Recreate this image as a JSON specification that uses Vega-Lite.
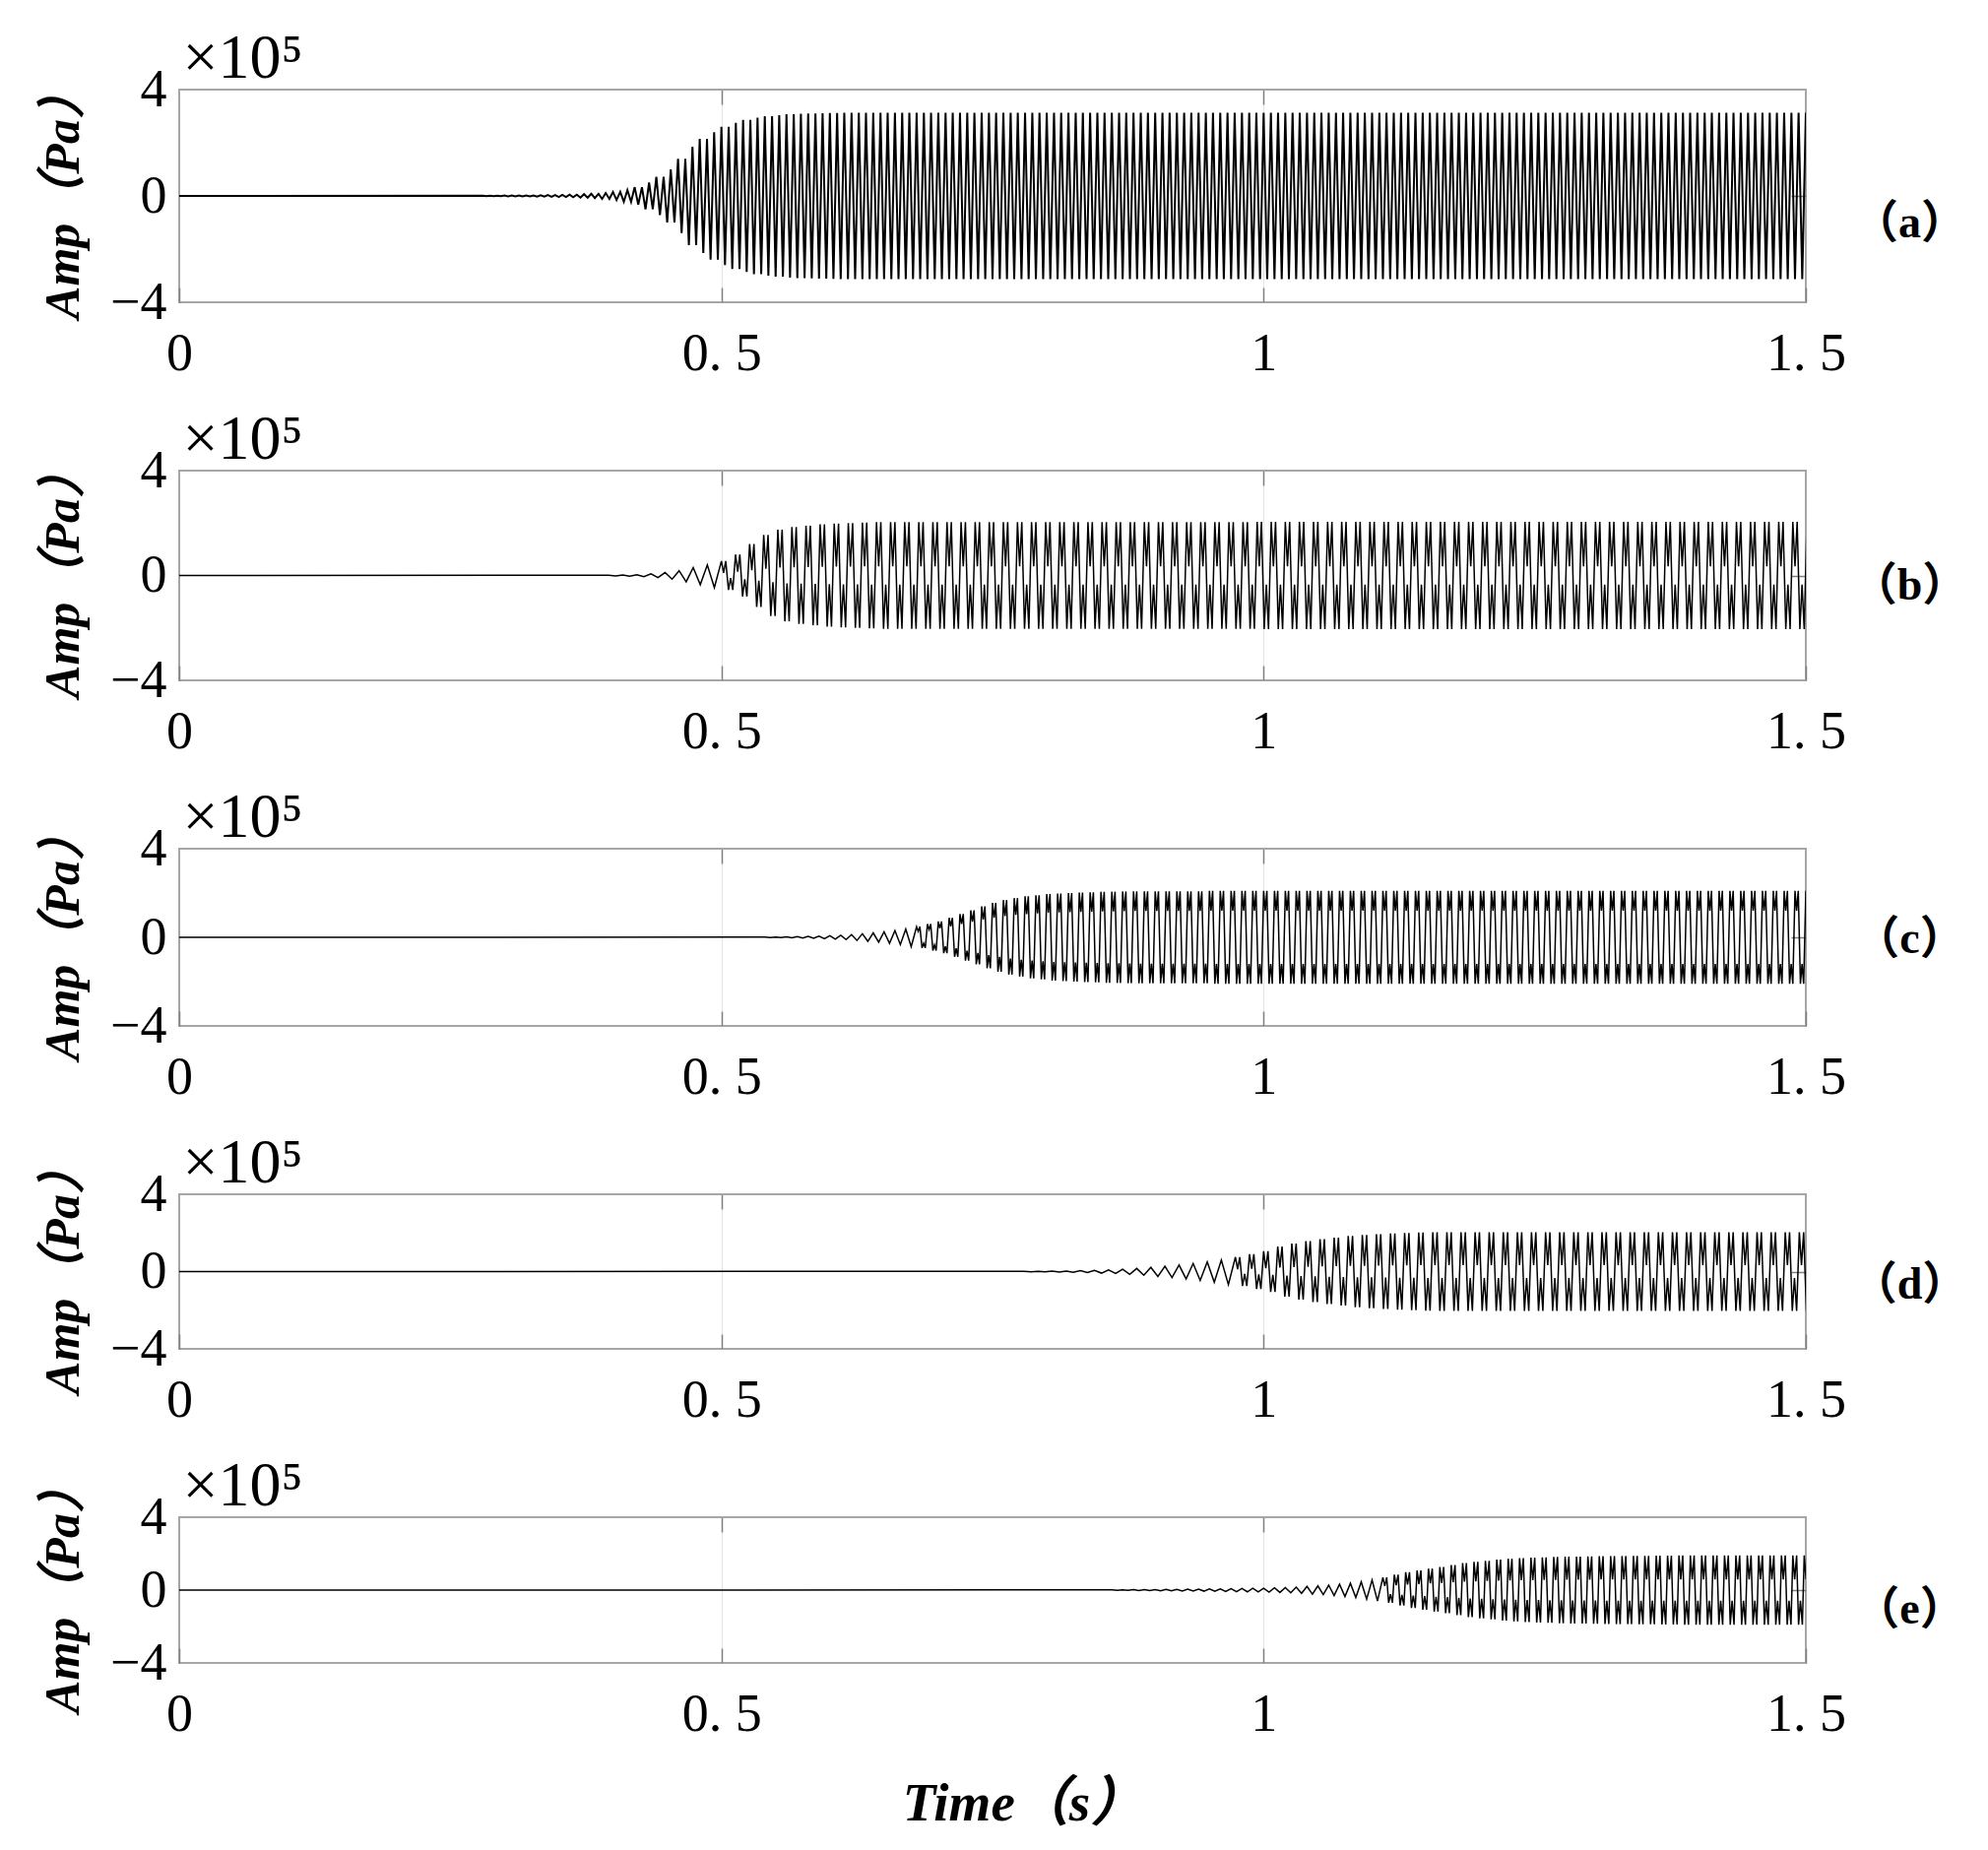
{
"$schema": "https://vega.github.io/schema/vega-lite/v6.json",
"background": "white",
"padding": {"left": 37, "top": 26, "right": 10, "bottom": 10},
"bounds": "flush",
"spacing": 171,
"config": {
  "view": {"stroke": "#a6a6a6", "strokeWidth": 2},
  "axis": {"labelFont": "Liberation Serif", "titleFont": "Liberation Serif, Noto Sans CJK SC", "labelColor": "#000", "titleColor": "#000", "labelFontSize": 54, "domain": false, "tickColor": "#808080", "tickWidth": 1.5, "labelFlush": false, "labelOverlap": false, "labelBound": false}
},
"datasets": {
"a": [{"t":0,"v":0},
{"t":0.28,"v":0.01},{"t":0.2833,"v":-0.01},{"t":0.2867,"v":0.01},
{"t":0.29,"v":-0.012},{"t":0.2933,"v":0.012},{"t":0.2967,"v":-0.012},
{"t":0.3,"v":0.015},{"t":0.3033,"v":-0.015},{"t":0.3067,"v":0.015},
{"t":0.31,"v":-0.017},{"t":0.3133,"v":0.017},{"t":0.3167,"v":-0.017},
{"t":0.32,"v":0.02},{"t":0.3233,"v":-0.02},{"t":0.3267,"v":0.02},
{"t":0.33,"v":-0.025},{"t":0.3333,"v":0.025},{"t":0.3367,"v":-0.025},
{"t":0.34,"v":0.03},{"t":0.3433,"v":-0.03},{"t":0.3467,"v":0.03},
{"t":0.35,"v":-0.04},{"t":0.3533,"v":0.04},{"t":0.3567,"v":-0.04},
{"t":0.36,"v":0.05},{"t":0.3633,"v":-0.05},{"t":0.3667,"v":0.05},
{"t":0.37,"v":-0.065},{"t":0.3733,"v":0.065},{"t":0.3767,"v":-0.065},
{"t":0.38,"v":0.08},{"t":0.3833,"v":-0.08},{"t":0.3867,"v":0.08},
{"t":0.39,"v":-0.11},{"t":0.3933,"v":0.11},{"t":0.3967,"v":-0.11},
{"t":0.4,"v":0.15},{"t":0.4033,"v":-0.15},{"t":0.4067,"v":0.15},
{"t":0.41,"v":-0.22},{"t":0.4133,"v":0.22},{"t":0.4167,"v":-0.22},
{"t":0.42,"v":0.33},{"t":0.4233,"v":-0.33},{"t":0.4267,"v":0.33},
{"t":0.43,"v":-0.5},{"t":0.4333,"v":0.5},{"t":0.4367,"v":-0.5},
{"t":0.44,"v":0.72},{"t":0.4433,"v":-0.72},{"t":0.4467,"v":0.72},
{"t":0.45,"v":-1},{"t":0.4533,"v":1},{"t":0.4567,"v":-1},
{"t":0.46,"v":1.4},{"t":0.4633,"v":-1.4},{"t":0.4667,"v":1.4},
{"t":0.47,"v":-1.85},{"t":0.4733,"v":1.85},{"t":0.4767,"v":-1.85},
{"t":0.48,"v":2.15},{"t":0.4833,"v":-2.15},{"t":0.4867,"v":2.15},
{"t":0.49,"v":-2.4},{"t":0.4933,"v":2.4},{"t":0.4967,"v":-2.4},
{"t":0.5,"v":2.6},{"t":0.5033,"v":-2.6},{"t":0.5067,"v":2.6},
{"t":0.51,"v":-2.75},{"t":0.5133,"v":2.75},{"t":0.5167,"v":-2.75},
{"t":0.52,"v":2.86},{"t":0.5233,"v":-2.86},{"t":0.5267,"v":2.86},
{"t":0.53,"v":-2.94},{"t":0.5333,"v":2.94},{"t":0.5367,"v":-2.94},
{"t":0.54,"v":3},{"t":0.5433,"v":-3},{"t":0.5467,"v":3},
{"t":0.55,"v":-3.04},{"t":0.5533,"v":3.04},{"t":0.5567,"v":-3.04},
{"t":0.56,"v":3.07},{"t":0.5633,"v":-3.07},{"t":0.5667,"v":3.07},
{"t":0.57,"v":-3.09},{"t":0.5733,"v":3.09},{"t":0.5767,"v":-3.09},
{"t":0.58,"v":3.1},{"t":0.5833,"v":-3.1},{"t":0.5867,"v":3.1},
{"t":0.59,"v":-3.11},{"t":0.5933,"v":3.11},{"t":0.5967,"v":-3.11},
{"t":0.6,"v":3.12},{"t":0.6033,"v":-3.12},{"t":0.6067,"v":3.12},
{"t":0.61,"v":-3.13},{"t":0.6133,"v":3.13},{"t":0.6167,"v":-3.13},
{"t":0.62,"v":3.13},{"t":0.6233,"v":-3.13},{"t":0.6267,"v":3.13},
{"t":0.63,"v":-3.13},{"t":0.6333,"v":3.13},{"t":0.6367,"v":-3.13},
{"t":0.64,"v":3.13},{"t":0.6433,"v":-3.13},{"t":0.6467,"v":3.13},
{"t":0.65,"v":-3.13},{"t":0.6533,"v":3.13},{"t":0.6567,"v":-3.13},
{"t":0.66,"v":3.13},{"t":0.6633,"v":-3.13},{"t":0.6667,"v":3.13},
{"t":0.67,"v":-3.13},{"t":0.6733,"v":3.13},{"t":0.6767,"v":-3.13},
{"t":0.68,"v":3.13},{"t":0.6833,"v":-3.13},{"t":0.6867,"v":3.13},
{"t":0.69,"v":-3.13},{"t":0.6933,"v":3.13},{"t":0.6967,"v":-3.13},
{"t":0.7,"v":3.13},{"t":0.7033,"v":-3.13},{"t":0.7067,"v":3.13},
{"t":0.71,"v":-3.13},{"t":0.7133,"v":3.13},{"t":0.7167,"v":-3.13},
{"t":0.72,"v":3.13},{"t":0.7233,"v":-3.13},{"t":0.7267,"v":3.13},
{"t":0.73,"v":-3.13},{"t":0.7333,"v":3.13},{"t":0.7367,"v":-3.13},
{"t":0.74,"v":3.13},{"t":0.7433,"v":-3.13},{"t":0.7467,"v":3.13},
{"t":0.75,"v":-3.13},{"t":0.7533,"v":3.13},{"t":0.7567,"v":-3.13},
{"t":0.76,"v":3.13},{"t":0.7633,"v":-3.13},{"t":0.7667,"v":3.13},
{"t":0.77,"v":-3.13},{"t":0.7733,"v":3.13},{"t":0.7767,"v":-3.13},
{"t":0.78,"v":3.13},{"t":0.7833,"v":-3.13},{"t":0.7867,"v":3.13},
{"t":0.79,"v":-3.13},{"t":0.7933,"v":3.13},{"t":0.7967,"v":-3.13},
{"t":0.8,"v":3.13},{"t":0.8033,"v":-3.13},{"t":0.8067,"v":3.13},
{"t":0.81,"v":-3.13},{"t":0.8133,"v":3.13},{"t":0.8167,"v":-3.13},
{"t":0.82,"v":3.13},{"t":0.8233,"v":-3.13},{"t":0.8267,"v":3.13},
{"t":0.83,"v":-3.13},{"t":0.8333,"v":3.13},{"t":0.8367,"v":-3.13},
{"t":0.84,"v":3.13},{"t":0.8433,"v":-3.13},{"t":0.8467,"v":3.13},
{"t":0.85,"v":-3.13},{"t":0.8533,"v":3.13},{"t":0.8567,"v":-3.13},
{"t":0.86,"v":3.13},{"t":0.8633,"v":-3.13},{"t":0.8667,"v":3.13},
{"t":0.87,"v":-3.13},{"t":0.8733,"v":3.13},{"t":0.8767,"v":-3.13},
{"t":0.88,"v":3.13},{"t":0.8833,"v":-3.13},{"t":0.8867,"v":3.13},
{"t":0.89,"v":-3.13},{"t":0.8933,"v":3.13},{"t":0.8967,"v":-3.13},
{"t":0.9,"v":3.13},{"t":0.9033,"v":-3.13},{"t":0.9067,"v":3.13},
{"t":0.91,"v":-3.13},{"t":0.9133,"v":3.13},{"t":0.9167,"v":-3.13},
{"t":0.92,"v":3.13},{"t":0.9233,"v":-3.13},{"t":0.9267,"v":3.13},
{"t":0.93,"v":-3.13},{"t":0.9333,"v":3.13},{"t":0.9367,"v":-3.13},
{"t":0.94,"v":3.13},{"t":0.9433,"v":-3.13},{"t":0.9467,"v":3.13},
{"t":0.95,"v":-3.13},{"t":0.9533,"v":3.13},{"t":0.9567,"v":-3.13},
{"t":0.96,"v":3.13},{"t":0.9633,"v":-3.13},{"t":0.9667,"v":3.13},
{"t":0.97,"v":-3.13},{"t":0.9733,"v":3.13},{"t":0.9767,"v":-3.13},
{"t":0.98,"v":3.13},{"t":0.9833,"v":-3.13},{"t":0.9867,"v":3.13},
{"t":0.99,"v":-3.13},{"t":0.9933,"v":3.13},{"t":0.9967,"v":-3.13},
{"t":1,"v":3.13},{"t":1.0033,"v":-3.13},{"t":1.0067,"v":3.13},
{"t":1.01,"v":-3.13},{"t":1.0133,"v":3.13},{"t":1.0167,"v":-3.13},
{"t":1.02,"v":3.13},{"t":1.0233,"v":-3.13},{"t":1.0267,"v":3.13},
{"t":1.03,"v":-3.13},{"t":1.0333,"v":3.13},{"t":1.0367,"v":-3.13},
{"t":1.04,"v":3.13},{"t":1.0433,"v":-3.13},{"t":1.0467,"v":3.13},
{"t":1.05,"v":-3.13},{"t":1.0533,"v":3.13},{"t":1.0567,"v":-3.13},
{"t":1.06,"v":3.13},{"t":1.0633,"v":-3.13},{"t":1.0667,"v":3.13},
{"t":1.07,"v":-3.13},{"t":1.0733,"v":3.13},{"t":1.0767,"v":-3.13},
{"t":1.08,"v":3.13},{"t":1.0833,"v":-3.13},{"t":1.0867,"v":3.13},
{"t":1.09,"v":-3.13},{"t":1.0933,"v":3.13},{"t":1.0967,"v":-3.13},
{"t":1.1,"v":3.13},{"t":1.1033,"v":-3.13},{"t":1.1067,"v":3.13},
{"t":1.11,"v":-3.13},{"t":1.1133,"v":3.13},{"t":1.1167,"v":-3.13},
{"t":1.12,"v":3.13},{"t":1.1233,"v":-3.13},{"t":1.1267,"v":3.13},
{"t":1.13,"v":-3.13},{"t":1.1333,"v":3.13},{"t":1.1367,"v":-3.13},
{"t":1.14,"v":3.13},{"t":1.1433,"v":-3.13},{"t":1.1467,"v":3.13},
{"t":1.15,"v":-3.13},{"t":1.1533,"v":3.13},{"t":1.1567,"v":-3.13},
{"t":1.16,"v":3.13},{"t":1.1633,"v":-3.13},{"t":1.1667,"v":3.13},
{"t":1.17,"v":-3.13},{"t":1.1733,"v":3.13},{"t":1.1767,"v":-3.13},
{"t":1.18,"v":3.13},{"t":1.1833,"v":-3.13},{"t":1.1867,"v":3.13},
{"t":1.19,"v":-3.13},{"t":1.1933,"v":3.13},{"t":1.1967,"v":-3.13},
{"t":1.2,"v":3.13},{"t":1.2033,"v":-3.13},{"t":1.2067,"v":3.13},
{"t":1.21,"v":-3.13},{"t":1.2133,"v":3.13},{"t":1.2167,"v":-3.13},
{"t":1.22,"v":3.13},{"t":1.2233,"v":-3.13},{"t":1.2267,"v":3.13},
{"t":1.23,"v":-3.13},{"t":1.2333,"v":3.13},{"t":1.2367,"v":-3.13},
{"t":1.24,"v":3.13},{"t":1.2433,"v":-3.13},{"t":1.2467,"v":3.13},
{"t":1.25,"v":-3.13},{"t":1.2533,"v":3.13},{"t":1.2567,"v":-3.13},
{"t":1.26,"v":3.13},{"t":1.2633,"v":-3.13},{"t":1.2667,"v":3.13},
{"t":1.27,"v":-3.13},{"t":1.2733,"v":3.13},{"t":1.2767,"v":-3.13},
{"t":1.28,"v":3.13},{"t":1.2833,"v":-3.13},{"t":1.2867,"v":3.13},
{"t":1.29,"v":-3.13},{"t":1.2933,"v":3.13},{"t":1.2967,"v":-3.13},
{"t":1.3,"v":3.13},{"t":1.3033,"v":-3.13},{"t":1.3067,"v":3.13},
{"t":1.31,"v":-3.13},{"t":1.3133,"v":3.13},{"t":1.3167,"v":-3.13},
{"t":1.32,"v":3.13},{"t":1.3233,"v":-3.13},{"t":1.3267,"v":3.13},
{"t":1.33,"v":-3.13},{"t":1.3333,"v":3.13},{"t":1.3367,"v":-3.13},
{"t":1.34,"v":3.13},{"t":1.3433,"v":-3.13},{"t":1.3467,"v":3.13},
{"t":1.35,"v":-3.13},{"t":1.3533,"v":3.13},{"t":1.3567,"v":-3.13},
{"t":1.36,"v":3.13},{"t":1.3633,"v":-3.13},{"t":1.3667,"v":3.13},
{"t":1.37,"v":-3.13},{"t":1.3733,"v":3.13},{"t":1.3767,"v":-3.13},
{"t":1.38,"v":3.13},{"t":1.3833,"v":-3.13},{"t":1.3867,"v":3.13},
{"t":1.39,"v":-3.13},{"t":1.3933,"v":3.13},{"t":1.3967,"v":-3.13},
{"t":1.4,"v":3.13},{"t":1.4033,"v":-3.13},{"t":1.4067,"v":3.13},
{"t":1.41,"v":-3.13},{"t":1.4133,"v":3.13},{"t":1.4167,"v":-3.13},
{"t":1.42,"v":3.13},{"t":1.4233,"v":-3.13},{"t":1.4267,"v":3.13},
{"t":1.43,"v":-3.13},{"t":1.4333,"v":3.13},{"t":1.4367,"v":-3.13},
{"t":1.44,"v":3.13},{"t":1.4433,"v":-3.13},{"t":1.4467,"v":3.13},
{"t":1.45,"v":-3.13},{"t":1.4533,"v":3.13},{"t":1.4567,"v":-3.13},
{"t":1.46,"v":3.13},{"t":1.4633,"v":-3.13},{"t":1.4667,"v":3.13},
{"t":1.47,"v":-3.13},{"t":1.4733,"v":3.13},{"t":1.4767,"v":-3.13},
{"t":1.48,"v":3.13},{"t":1.4833,"v":-3.13},{"t":1.4867,"v":3.13},
{"t":1.49,"v":-3.13},{"t":1.4933,"v":3.13},{"t":1.4967,"v":-3.13},
{"t":1.5,"v":3.13}],
"b": [{"t":0,"v":0},
{"t":0.396,"v":0.01},{"t":0.4025,"v":-0.015},{"t":0.409,"v":0.02},{"t":0.4155,"v":-0.025},{"t":0.422,"v":0.03},{"t":0.4285,"v":-0.045},{"t":0.435,"v":0.06},{"t":0.4415,"v":-0.08},{"t":0.448,"v":0.11},{"t":0.4545,"v":-0.14},{"t":0.461,"v":0.18},{"t":0.4675,"v":-0.24},{"t":0.474,"v":0.3},{"t":0.4805,"v":-0.35},{"t":0.487,"v":0.4},{"t":0.4935,"v":-0.46},
{"t":0.5,"v":0.55},{"t":0.502,"v":0.1},{"t":0.504,"v":0.55},{"t":0.5065,"v":-0.55},{"t":0.5085,"v":-0.1},{"t":0.5105,"v":-0.55},
{"t":0.513,"v":0.8},{"t":0.515,"v":0.14},{"t":0.517,"v":0.8},{"t":0.5195,"v":-0.8},{"t":0.5215,"v":-0.14},{"t":0.5235,"v":-0.8},
{"t":0.526,"v":1.2},{"t":0.528,"v":0.2},{"t":0.53,"v":1.2},{"t":0.5325,"v":-1.2},{"t":0.5345,"v":-0.2},{"t":0.5365,"v":-1.2},
{"t":0.539,"v":1.55},{"t":0.541,"v":0.26},{"t":0.543,"v":1.55},{"t":0.5455,"v":-1.55},{"t":0.5475,"v":-0.26},{"t":0.5495,"v":-1.55},
{"t":0.552,"v":1.75},{"t":0.554,"v":0.3},{"t":0.556,"v":1.75},{"t":0.5585,"v":-1.75},{"t":0.5605,"v":-0.3},{"t":0.5625,"v":-1.75},
{"t":0.565,"v":1.85},{"t":0.567,"v":0.31},{"t":0.569,"v":1.85},{"t":0.5715,"v":-1.85},{"t":0.5735,"v":-0.31},{"t":0.5755,"v":-1.85},
{"t":0.578,"v":1.9},{"t":0.58,"v":0.32},{"t":0.582,"v":1.9},{"t":0.5845,"v":-1.9},{"t":0.5865,"v":-0.32},{"t":0.5885,"v":-1.9},
{"t":0.591,"v":1.95},{"t":0.593,"v":0.33},{"t":0.595,"v":1.95},{"t":0.5975,"v":-1.95},{"t":0.5995,"v":-0.33},{"t":0.6015,"v":-1.95},
{"t":0.604,"v":1.98},{"t":0.606,"v":0.34},{"t":0.608,"v":1.98},{"t":0.6105,"v":-1.98},{"t":0.6125,"v":-0.34},{"t":0.6145,"v":-1.98},
{"t":0.617,"v":2},{"t":0.619,"v":0.34},{"t":0.621,"v":2},{"t":0.6235,"v":-2},{"t":0.6255,"v":-0.34},{"t":0.6275,"v":-2},
{"t":0.63,"v":2.02},{"t":0.632,"v":0.35},{"t":0.634,"v":2.02},{"t":0.6365,"v":-2.02},{"t":0.6385,"v":-0.35},{"t":0.6405,"v":-2.02},
{"t":0.643,"v":2.04},{"t":0.645,"v":0.35},{"t":0.647,"v":2.04},{"t":0.6495,"v":-2.04},{"t":0.6515,"v":-0.35},{"t":0.6535,"v":-2.04},
{"t":0.656,"v":2.04},{"t":0.658,"v":0.35},{"t":0.66,"v":2.04},{"t":0.6625,"v":-2.04},{"t":0.6645,"v":-0.35},{"t":0.6665,"v":-2.04},
{"t":0.669,"v":2.04},{"t":0.671,"v":0.35},{"t":0.673,"v":2.04},{"t":0.6755,"v":-2.04},{"t":0.6775,"v":-0.35},{"t":0.6795,"v":-2.04},
{"t":0.682,"v":2.04},{"t":0.684,"v":0.35},{"t":0.686,"v":2.04},{"t":0.6885,"v":-2.04},{"t":0.6905,"v":-0.35},{"t":0.6925,"v":-2.04},
{"t":0.695,"v":2.04},{"t":0.697,"v":0.35},{"t":0.699,"v":2.04},{"t":0.7015,"v":-2.04},{"t":0.7035,"v":-0.35},{"t":0.7055,"v":-2.04},
{"t":0.708,"v":2.04},{"t":0.71,"v":0.35},{"t":0.712,"v":2.04},{"t":0.7145,"v":-2.04},{"t":0.7165,"v":-0.35},{"t":0.7185,"v":-2.04},
{"t":0.721,"v":2.04},{"t":0.723,"v":0.35},{"t":0.725,"v":2.04},{"t":0.7275,"v":-2.04},{"t":0.7295,"v":-0.35},{"t":0.7315,"v":-2.04},
{"t":0.734,"v":2.04},{"t":0.736,"v":0.35},{"t":0.738,"v":2.04},{"t":0.7405,"v":-2.04},{"t":0.7425,"v":-0.35},{"t":0.7445,"v":-2.04},
{"t":0.747,"v":2.04},{"t":0.749,"v":0.35},{"t":0.751,"v":2.04},{"t":0.7535,"v":-2.04},{"t":0.7555,"v":-0.35},{"t":0.7575,"v":-2.04},
{"t":0.76,"v":2.04},{"t":0.762,"v":0.35},{"t":0.764,"v":2.04},{"t":0.7665,"v":-2.04},{"t":0.7685,"v":-0.35},{"t":0.7705,"v":-2.04},
{"t":0.773,"v":2.04},{"t":0.775,"v":0.35},{"t":0.777,"v":2.04},{"t":0.7795,"v":-2.04},{"t":0.7815,"v":-0.35},{"t":0.7835,"v":-2.04},
{"t":0.786,"v":2.04},{"t":0.788,"v":0.35},{"t":0.79,"v":2.04},{"t":0.7925,"v":-2.04},{"t":0.7945,"v":-0.35},{"t":0.7965,"v":-2.04},
{"t":0.799,"v":2.04},{"t":0.801,"v":0.35},{"t":0.803,"v":2.04},{"t":0.8055,"v":-2.04},{"t":0.8075,"v":-0.35},{"t":0.8095,"v":-2.04},
{"t":0.812,"v":2.04},{"t":0.814,"v":0.35},{"t":0.816,"v":2.04},{"t":0.8185,"v":-2.04},{"t":0.8205,"v":-0.35},{"t":0.8225,"v":-2.04},
{"t":0.825,"v":2.04},{"t":0.827,"v":0.35},{"t":0.829,"v":2.04},{"t":0.8315,"v":-2.04},{"t":0.8335,"v":-0.35},{"t":0.8355,"v":-2.04},
{"t":0.838,"v":2.04},{"t":0.84,"v":0.35},{"t":0.842,"v":2.04},{"t":0.8445,"v":-2.04},{"t":0.8465,"v":-0.35},{"t":0.8485,"v":-2.04},
{"t":0.851,"v":2.04},{"t":0.853,"v":0.35},{"t":0.855,"v":2.04},{"t":0.8575,"v":-2.04},{"t":0.8595,"v":-0.35},{"t":0.8615,"v":-2.04},
{"t":0.864,"v":2.04},{"t":0.866,"v":0.35},{"t":0.868,"v":2.04},{"t":0.8705,"v":-2.04},{"t":0.8725,"v":-0.35},{"t":0.8745,"v":-2.04},
{"t":0.877,"v":2.04},{"t":0.879,"v":0.35},{"t":0.881,"v":2.04},{"t":0.8835,"v":-2.04},{"t":0.8855,"v":-0.35},{"t":0.8875,"v":-2.04},
{"t":0.89,"v":2.04},{"t":0.892,"v":0.35},{"t":0.894,"v":2.04},{"t":0.8965,"v":-2.04},{"t":0.8985,"v":-0.35},{"t":0.9005,"v":-2.04},
{"t":0.903,"v":2.04},{"t":0.905,"v":0.35},{"t":0.907,"v":2.04},{"t":0.9095,"v":-2.04},{"t":0.9115,"v":-0.35},{"t":0.9135,"v":-2.04},
{"t":0.916,"v":2.04},{"t":0.918,"v":0.35},{"t":0.92,"v":2.04},{"t":0.9225,"v":-2.04},{"t":0.9245,"v":-0.35},{"t":0.9265,"v":-2.04},
{"t":0.929,"v":2.04},{"t":0.931,"v":0.35},{"t":0.933,"v":2.04},{"t":0.9355,"v":-2.04},{"t":0.9375,"v":-0.35},{"t":0.9395,"v":-2.04},
{"t":0.942,"v":2.04},{"t":0.944,"v":0.35},{"t":0.946,"v":2.04},{"t":0.9485,"v":-2.04},{"t":0.9505,"v":-0.35},{"t":0.9525,"v":-2.04},
{"t":0.955,"v":2.04},{"t":0.957,"v":0.35},{"t":0.959,"v":2.04},{"t":0.9615,"v":-2.04},{"t":0.9635,"v":-0.35},{"t":0.9655,"v":-2.04},
{"t":0.968,"v":2.04},{"t":0.97,"v":0.35},{"t":0.972,"v":2.04},{"t":0.9745,"v":-2.04},{"t":0.9765,"v":-0.35},{"t":0.9785,"v":-2.04},
{"t":0.981,"v":2.04},{"t":0.983,"v":0.35},{"t":0.985,"v":2.04},{"t":0.9875,"v":-2.04},{"t":0.9895,"v":-0.35},{"t":0.9915,"v":-2.04},
{"t":0.994,"v":2.05},{"t":0.996,"v":0.35},{"t":0.998,"v":2.05},{"t":1.0005,"v":-2.05},{"t":1.0025,"v":-0.35},{"t":1.0045,"v":-2.05},
{"t":1.007,"v":2.05},{"t":1.009,"v":0.35},{"t":1.011,"v":2.05},{"t":1.0135,"v":-2.05},{"t":1.0155,"v":-0.35},{"t":1.0175,"v":-2.05},
{"t":1.02,"v":2.05},{"t":1.022,"v":0.35},{"t":1.024,"v":2.05},{"t":1.0265,"v":-2.05},{"t":1.0285,"v":-0.35},{"t":1.0305,"v":-2.05},
{"t":1.033,"v":2.05},{"t":1.035,"v":0.35},{"t":1.037,"v":2.05},{"t":1.0395,"v":-2.05},{"t":1.0415,"v":-0.35},{"t":1.0435,"v":-2.05},
{"t":1.046,"v":2.05},{"t":1.048,"v":0.35},{"t":1.05,"v":2.05},{"t":1.0525,"v":-2.05},{"t":1.0545,"v":-0.35},{"t":1.0565,"v":-2.05},
{"t":1.059,"v":2.05},{"t":1.061,"v":0.35},{"t":1.063,"v":2.05},{"t":1.0655,"v":-2.05},{"t":1.0675,"v":-0.35},{"t":1.0695,"v":-2.05},
{"t":1.072,"v":2.05},{"t":1.074,"v":0.35},{"t":1.076,"v":2.05},{"t":1.0785,"v":-2.05},{"t":1.0805,"v":-0.35},{"t":1.0825,"v":-2.05},
{"t":1.085,"v":2.05},{"t":1.087,"v":0.35},{"t":1.089,"v":2.05},{"t":1.0915,"v":-2.05},{"t":1.0935,"v":-0.35},{"t":1.0955,"v":-2.05},
{"t":1.098,"v":2.05},{"t":1.1,"v":0.35},{"t":1.102,"v":2.05},{"t":1.1045,"v":-2.05},{"t":1.1065,"v":-0.35},{"t":1.1085,"v":-2.05},
{"t":1.111,"v":2.05},{"t":1.113,"v":0.35},{"t":1.115,"v":2.05},{"t":1.1175,"v":-2.05},{"t":1.1195,"v":-0.35},{"t":1.1215,"v":-2.05},
{"t":1.124,"v":2.05},{"t":1.126,"v":0.35},{"t":1.128,"v":2.05},{"t":1.1305,"v":-2.05},{"t":1.1325,"v":-0.35},{"t":1.1345,"v":-2.05},
{"t":1.137,"v":2.05},{"t":1.139,"v":0.35},{"t":1.141,"v":2.05},{"t":1.1435,"v":-2.05},{"t":1.1455,"v":-0.35},{"t":1.1475,"v":-2.05},
{"t":1.15,"v":2.05},{"t":1.152,"v":0.35},{"t":1.154,"v":2.05},{"t":1.1565,"v":-2.05},{"t":1.1585,"v":-0.35},{"t":1.1605,"v":-2.05},
{"t":1.163,"v":2.05},{"t":1.165,"v":0.35},{"t":1.167,"v":2.05},{"t":1.1695,"v":-2.05},{"t":1.1715,"v":-0.35},{"t":1.1735,"v":-2.05},
{"t":1.176,"v":2.05},{"t":1.178,"v":0.35},{"t":1.18,"v":2.05},{"t":1.1825,"v":-2.05},{"t":1.1845,"v":-0.35},{"t":1.1865,"v":-2.05},
{"t":1.189,"v":2.05},{"t":1.191,"v":0.35},{"t":1.193,"v":2.05},{"t":1.1955,"v":-2.05},{"t":1.1975,"v":-0.35},{"t":1.1995,"v":-2.05},
{"t":1.202,"v":2.05},{"t":1.204,"v":0.35},{"t":1.206,"v":2.05},{"t":1.2085,"v":-2.05},{"t":1.2105,"v":-0.35},{"t":1.2125,"v":-2.05},
{"t":1.215,"v":2.05},{"t":1.217,"v":0.35},{"t":1.219,"v":2.05},{"t":1.2215,"v":-2.05},{"t":1.2235,"v":-0.35},{"t":1.2255,"v":-2.05},
{"t":1.228,"v":2.05},{"t":1.23,"v":0.35},{"t":1.232,"v":2.05},{"t":1.2345,"v":-2.05},{"t":1.2365,"v":-0.35},{"t":1.2385,"v":-2.05},
{"t":1.241,"v":2.05},{"t":1.243,"v":0.35},{"t":1.245,"v":2.05},{"t":1.2475,"v":-2.05},{"t":1.2495,"v":-0.35},{"t":1.2515,"v":-2.05},
{"t":1.254,"v":2.05},{"t":1.256,"v":0.35},{"t":1.258,"v":2.05},{"t":1.2605,"v":-2.05},{"t":1.2625,"v":-0.35},{"t":1.2645,"v":-2.05},
{"t":1.267,"v":2.05},{"t":1.269,"v":0.35},{"t":1.271,"v":2.05},{"t":1.2735,"v":-2.05},{"t":1.2755,"v":-0.35},{"t":1.2775,"v":-2.05},
{"t":1.28,"v":2.05},{"t":1.282,"v":0.35},{"t":1.284,"v":2.05},{"t":1.2865,"v":-2.05},{"t":1.2885,"v":-0.35},{"t":1.2905,"v":-2.05},
{"t":1.293,"v":2.05},{"t":1.295,"v":0.35},{"t":1.297,"v":2.05},{"t":1.2995,"v":-2.05},{"t":1.3015,"v":-0.35},{"t":1.3035,"v":-2.05},
{"t":1.306,"v":2.05},{"t":1.308,"v":0.35},{"t":1.31,"v":2.05},{"t":1.3125,"v":-2.05},{"t":1.3145,"v":-0.35},{"t":1.3165,"v":-2.05},
{"t":1.319,"v":2.05},{"t":1.321,"v":0.35},{"t":1.323,"v":2.05},{"t":1.3255,"v":-2.05},{"t":1.3275,"v":-0.35},{"t":1.3295,"v":-2.05},
{"t":1.332,"v":2.05},{"t":1.334,"v":0.35},{"t":1.336,"v":2.05},{"t":1.3385,"v":-2.05},{"t":1.3405,"v":-0.35},{"t":1.3425,"v":-2.05},
{"t":1.345,"v":2.05},{"t":1.347,"v":0.35},{"t":1.349,"v":2.05},{"t":1.3515,"v":-2.05},{"t":1.3535,"v":-0.35},{"t":1.3555,"v":-2.05},
{"t":1.358,"v":2.05},{"t":1.36,"v":0.35},{"t":1.362,"v":2.05},{"t":1.3645,"v":-2.05},{"t":1.3665,"v":-0.35},{"t":1.3685,"v":-2.05},
{"t":1.371,"v":2.05},{"t":1.373,"v":0.35},{"t":1.375,"v":2.05},{"t":1.3775,"v":-2.05},{"t":1.3795,"v":-0.35},{"t":1.3815,"v":-2.05},
{"t":1.384,"v":2.05},{"t":1.386,"v":0.35},{"t":1.388,"v":2.05},{"t":1.3905,"v":-2.05},{"t":1.3925,"v":-0.35},{"t":1.3945,"v":-2.05},
{"t":1.397,"v":2.05},{"t":1.399,"v":0.35},{"t":1.401,"v":2.05},{"t":1.4035,"v":-2.05},{"t":1.4055,"v":-0.35},{"t":1.4075,"v":-2.05},
{"t":1.41,"v":2.05},{"t":1.412,"v":0.35},{"t":1.414,"v":2.05},{"t":1.4165,"v":-2.05},{"t":1.4185,"v":-0.35},{"t":1.4205,"v":-2.05},
{"t":1.423,"v":2.05},{"t":1.425,"v":0.35},{"t":1.427,"v":2.05},{"t":1.4295,"v":-2.05},{"t":1.4315,"v":-0.35},{"t":1.4335,"v":-2.05},
{"t":1.436,"v":2.05},{"t":1.438,"v":0.35},{"t":1.44,"v":2.05},{"t":1.4425,"v":-2.05},{"t":1.4445,"v":-0.35},{"t":1.4465,"v":-2.05},
{"t":1.449,"v":2.05},{"t":1.451,"v":0.35},{"t":1.453,"v":2.05},{"t":1.4555,"v":-2.05},{"t":1.4575,"v":-0.35},{"t":1.4595,"v":-2.05},
{"t":1.462,"v":2.05},{"t":1.464,"v":0.35},{"t":1.466,"v":2.05},{"t":1.4685,"v":-2.05},{"t":1.4705,"v":-0.35},{"t":1.4725,"v":-2.05},
{"t":1.475,"v":2.05},{"t":1.477,"v":0.35},{"t":1.479,"v":2.05},{"t":1.4815,"v":-2.05},{"t":1.4835,"v":-0.35},{"t":1.4855,"v":-2.05},
{"t":1.488,"v":2.05},{"t":1.49,"v":0.35},{"t":1.492,"v":2.05},{"t":1.4945,"v":-2.05},{"t":1.4965,"v":-0.35},{"t":1.4985,"v":-2.05},
{"t":1.501,"v":2.05}],
"c": [{"t":0,"v":0},
{"t":0.54,"v":0.01},{"t":0.545,"v":-0.012},{"t":0.55,"v":0.014},{"t":0.555,"v":-0.016},{"t":0.56,"v":0.02},{"t":0.565,"v":-0.024},{"t":0.57,"v":0.028},{"t":0.575,"v":-0.033},{"t":0.58,"v":0.04},{"t":0.585,"v":-0.047},{"t":0.59,"v":0.055},{"t":0.595,"v":-0.062},{"t":0.6,"v":0.07},{"t":0.605,"v":-0.08},{"t":0.61,"v":0.09},{"t":0.615,"v":-0.105},{"t":0.62,"v":0.12},{"t":0.625,"v":-0.14},{"t":0.63,"v":0.16},{"t":0.635,"v":-0.18},{"t":0.64,"v":0.2},{"t":0.645,"v":-0.22},{"t":0.65,"v":0.25},{"t":0.655,"v":-0.27},{"t":0.66,"v":0.3},{"t":0.665,"v":-0.33},{"t":0.67,"v":0.37},{"t":0.675,"v":-0.42},
{"t":0.68,"v":0.48},{"t":0.6815,"v":0.27},{"t":0.683,"v":0.48},{"t":0.685,"v":-0.48},{"t":0.6865,"v":-0.27},{"t":0.688,"v":-0.48},
{"t":0.69,"v":0.6},{"t":0.6915,"v":0.34},{"t":0.693,"v":0.6},{"t":0.695,"v":-0.6},{"t":0.6965,"v":-0.34},{"t":0.698,"v":-0.6},
{"t":0.7,"v":0.72},{"t":0.7015,"v":0.41},{"t":0.703,"v":0.72},{"t":0.705,"v":-0.72},{"t":0.7065,"v":-0.41},{"t":0.708,"v":-0.72},
{"t":0.71,"v":0.88},{"t":0.7115,"v":0.5},{"t":0.713,"v":0.88},{"t":0.715,"v":-0.88},{"t":0.7165,"v":-0.5},{"t":0.718,"v":-0.88},
{"t":0.72,"v":1.05},{"t":0.7215,"v":0.6},{"t":0.723,"v":1.05},{"t":0.725,"v":-1.05},{"t":0.7265,"v":-0.6},{"t":0.728,"v":-1.05},
{"t":0.73,"v":1.22},{"t":0.7315,"v":0.7},{"t":0.733,"v":1.22},{"t":0.735,"v":-1.22},{"t":0.7365,"v":-0.7},{"t":0.738,"v":-1.22},
{"t":0.74,"v":1.4},{"t":0.7415,"v":0.8},{"t":0.743,"v":1.4},{"t":0.745,"v":-1.4},{"t":0.7465,"v":-0.8},{"t":0.748,"v":-1.4},
{"t":0.75,"v":1.55},{"t":0.7515,"v":0.88},{"t":0.753,"v":1.55},{"t":0.755,"v":-1.55},{"t":0.7565,"v":-0.88},{"t":0.758,"v":-1.55},
{"t":0.76,"v":1.68},{"t":0.7615,"v":0.96},{"t":0.763,"v":1.68},{"t":0.765,"v":-1.68},{"t":0.7665,"v":-0.96},{"t":0.768,"v":-1.68},
{"t":0.77,"v":1.77},{"t":0.7715,"v":1.01},{"t":0.773,"v":1.77},{"t":0.775,"v":-1.77},{"t":0.7765,"v":-1.01},{"t":0.778,"v":-1.77},
{"t":0.78,"v":1.85},{"t":0.7815,"v":1.05},{"t":0.783,"v":1.85},{"t":0.785,"v":-1.85},{"t":0.7865,"v":-1.05},{"t":0.788,"v":-1.85},
{"t":0.79,"v":1.9},{"t":0.7915,"v":1.08},{"t":0.793,"v":1.9},{"t":0.795,"v":-1.9},{"t":0.7965,"v":-1.08},{"t":0.798,"v":-1.9},
{"t":0.8,"v":1.95},{"t":0.8015,"v":1.11},{"t":0.803,"v":1.95},{"t":0.805,"v":-1.95},{"t":0.8065,"v":-1.11},{"t":0.808,"v":-1.95},
{"t":0.81,"v":1.98},{"t":0.8115,"v":1.13},{"t":0.813,"v":1.98},{"t":0.815,"v":-1.98},{"t":0.8165,"v":-1.13},{"t":0.818,"v":-1.98},
{"t":0.82,"v":2},{"t":0.8215,"v":1.14},{"t":0.823,"v":2},{"t":0.825,"v":-2},{"t":0.8265,"v":-1.14},{"t":0.828,"v":-2},
{"t":0.83,"v":2.02},{"t":0.8315,"v":1.15},{"t":0.833,"v":2.02},{"t":0.835,"v":-2.02},{"t":0.8365,"v":-1.15},{"t":0.838,"v":-2.02},
{"t":0.84,"v":2.03},{"t":0.8415,"v":1.16},{"t":0.843,"v":2.03},{"t":0.845,"v":-2.03},{"t":0.8465,"v":-1.16},{"t":0.848,"v":-2.03},
{"t":0.85,"v":2.05},{"t":0.8515,"v":1.17},{"t":0.853,"v":2.05},{"t":0.855,"v":-2.05},{"t":0.8565,"v":-1.17},{"t":0.858,"v":-2.05},
{"t":0.86,"v":2.06},{"t":0.8615,"v":1.17},{"t":0.863,"v":2.06},{"t":0.865,"v":-2.06},{"t":0.8665,"v":-1.17},{"t":0.868,"v":-2.06},
{"t":0.87,"v":2.07},{"t":0.8715,"v":1.18},{"t":0.873,"v":2.07},{"t":0.875,"v":-2.07},{"t":0.8765,"v":-1.18},{"t":0.878,"v":-2.07},
{"t":0.88,"v":2.08},{"t":0.8815,"v":1.19},{"t":0.883,"v":2.08},{"t":0.885,"v":-2.08},{"t":0.8865,"v":-1.19},{"t":0.888,"v":-2.08},
{"t":0.89,"v":2.08},{"t":0.8915,"v":1.19},{"t":0.893,"v":2.08},{"t":0.895,"v":-2.08},{"t":0.8965,"v":-1.19},{"t":0.898,"v":-2.08},
{"t":0.9,"v":2.08},{"t":0.9015,"v":1.19},{"t":0.903,"v":2.08},{"t":0.905,"v":-2.08},{"t":0.9065,"v":-1.19},{"t":0.908,"v":-2.08},
{"t":0.91,"v":2.08},{"t":0.9115,"v":1.19},{"t":0.913,"v":2.08},{"t":0.915,"v":-2.08},{"t":0.9165,"v":-1.19},{"t":0.918,"v":-2.08},
{"t":0.92,"v":2.08},{"t":0.9215,"v":1.19},{"t":0.923,"v":2.08},{"t":0.925,"v":-2.08},{"t":0.9265,"v":-1.19},{"t":0.928,"v":-2.08},
{"t":0.93,"v":2.08},{"t":0.9315,"v":1.19},{"t":0.933,"v":2.08},{"t":0.935,"v":-2.08},{"t":0.9365,"v":-1.19},{"t":0.938,"v":-2.08},
{"t":0.94,"v":2.08},{"t":0.9415,"v":1.19},{"t":0.943,"v":2.08},{"t":0.945,"v":-2.08},{"t":0.9465,"v":-1.19},{"t":0.948,"v":-2.08},
{"t":0.95,"v":2.1},{"t":0.9515,"v":1.2},{"t":0.953,"v":2.1},{"t":0.955,"v":-2.1},{"t":0.9565,"v":-1.2},{"t":0.958,"v":-2.1},
{"t":0.96,"v":2.1},{"t":0.9615,"v":1.2},{"t":0.963,"v":2.1},{"t":0.965,"v":-2.1},{"t":0.9665,"v":-1.2},{"t":0.968,"v":-2.1},
{"t":0.97,"v":2.1},{"t":0.9715,"v":1.2},{"t":0.973,"v":2.1},{"t":0.975,"v":-2.1},{"t":0.9765,"v":-1.2},{"t":0.978,"v":-2.1},
{"t":0.98,"v":2.1},{"t":0.9815,"v":1.2},{"t":0.983,"v":2.1},{"t":0.985,"v":-2.1},{"t":0.9865,"v":-1.2},{"t":0.988,"v":-2.1},
{"t":0.99,"v":2.1},{"t":0.9915,"v":1.2},{"t":0.993,"v":2.1},{"t":0.995,"v":-2.1},{"t":0.9965,"v":-1.2},{"t":0.998,"v":-2.1},
{"t":1,"v":2.1},{"t":1.0015,"v":1.2},{"t":1.003,"v":2.1},{"t":1.005,"v":-2.1},{"t":1.0065,"v":-1.2},{"t":1.008,"v":-2.1},
{"t":1.01,"v":2.1},{"t":1.0115,"v":1.2},{"t":1.013,"v":2.1},{"t":1.015,"v":-2.1},{"t":1.0165,"v":-1.2},{"t":1.018,"v":-2.1},
{"t":1.02,"v":2.1},{"t":1.0215,"v":1.2},{"t":1.023,"v":2.1},{"t":1.025,"v":-2.1},{"t":1.0265,"v":-1.2},{"t":1.028,"v":-2.1},
{"t":1.03,"v":2.1},{"t":1.0315,"v":1.2},{"t":1.033,"v":2.1},{"t":1.035,"v":-2.1},{"t":1.0365,"v":-1.2},{"t":1.038,"v":-2.1},
{"t":1.04,"v":2.1},{"t":1.0415,"v":1.2},{"t":1.043,"v":2.1},{"t":1.045,"v":-2.1},{"t":1.0465,"v":-1.2},{"t":1.048,"v":-2.1},
{"t":1.05,"v":2.1},{"t":1.0515,"v":1.2},{"t":1.053,"v":2.1},{"t":1.055,"v":-2.1},{"t":1.0565,"v":-1.2},{"t":1.058,"v":-2.1},
{"t":1.06,"v":2.1},{"t":1.0615,"v":1.2},{"t":1.063,"v":2.1},{"t":1.065,"v":-2.1},{"t":1.0665,"v":-1.2},{"t":1.068,"v":-2.1},
{"t":1.07,"v":2.1},{"t":1.0715,"v":1.2},{"t":1.073,"v":2.1},{"t":1.075,"v":-2.1},{"t":1.0765,"v":-1.2},{"t":1.078,"v":-2.1},
{"t":1.08,"v":2.1},{"t":1.0815,"v":1.2},{"t":1.083,"v":2.1},{"t":1.085,"v":-2.1},{"t":1.0865,"v":-1.2},{"t":1.088,"v":-2.1},
{"t":1.09,"v":2.1},{"t":1.0915,"v":1.2},{"t":1.093,"v":2.1},{"t":1.095,"v":-2.1},{"t":1.0965,"v":-1.2},{"t":1.098,"v":-2.1},
{"t":1.1,"v":2.1},{"t":1.1015,"v":1.2},{"t":1.103,"v":2.1},{"t":1.105,"v":-2.1},{"t":1.1065,"v":-1.2},{"t":1.108,"v":-2.1},
{"t":1.11,"v":2.1},{"t":1.1115,"v":1.2},{"t":1.113,"v":2.1},{"t":1.115,"v":-2.1},{"t":1.1165,"v":-1.2},{"t":1.118,"v":-2.1},
{"t":1.12,"v":2.1},{"t":1.1215,"v":1.2},{"t":1.123,"v":2.1},{"t":1.125,"v":-2.1},{"t":1.1265,"v":-1.2},{"t":1.128,"v":-2.1},
{"t":1.13,"v":2.1},{"t":1.1315,"v":1.2},{"t":1.133,"v":2.1},{"t":1.135,"v":-2.1},{"t":1.1365,"v":-1.2},{"t":1.138,"v":-2.1},
{"t":1.14,"v":2.1},{"t":1.1415,"v":1.2},{"t":1.143,"v":2.1},{"t":1.145,"v":-2.1},{"t":1.1465,"v":-1.2},{"t":1.148,"v":-2.1},
{"t":1.15,"v":2.1},{"t":1.1515,"v":1.2},{"t":1.153,"v":2.1},{"t":1.155,"v":-2.1},{"t":1.1565,"v":-1.2},{"t":1.158,"v":-2.1},
{"t":1.16,"v":2.1},{"t":1.1615,"v":1.2},{"t":1.163,"v":2.1},{"t":1.165,"v":-2.1},{"t":1.1665,"v":-1.2},{"t":1.168,"v":-2.1},
{"t":1.17,"v":2.1},{"t":1.1715,"v":1.2},{"t":1.173,"v":2.1},{"t":1.175,"v":-2.1},{"t":1.1765,"v":-1.2},{"t":1.178,"v":-2.1},
{"t":1.18,"v":2.1},{"t":1.1815,"v":1.2},{"t":1.183,"v":2.1},{"t":1.185,"v":-2.1},{"t":1.1865,"v":-1.2},{"t":1.188,"v":-2.1},
{"t":1.19,"v":2.1},{"t":1.1915,"v":1.2},{"t":1.193,"v":2.1},{"t":1.195,"v":-2.1},{"t":1.1965,"v":-1.2},{"t":1.198,"v":-2.1},
{"t":1.2,"v":2.1},{"t":1.2015,"v":1.2},{"t":1.203,"v":2.1},{"t":1.205,"v":-2.1},{"t":1.2065,"v":-1.2},{"t":1.208,"v":-2.1},
{"t":1.21,"v":2.1},{"t":1.2115,"v":1.2},{"t":1.213,"v":2.1},{"t":1.215,"v":-2.1},{"t":1.2165,"v":-1.2},{"t":1.218,"v":-2.1},
{"t":1.22,"v":2.1},{"t":1.2215,"v":1.2},{"t":1.223,"v":2.1},{"t":1.225,"v":-2.1},{"t":1.2265,"v":-1.2},{"t":1.228,"v":-2.1},
{"t":1.23,"v":2.1},{"t":1.2315,"v":1.2},{"t":1.233,"v":2.1},{"t":1.235,"v":-2.1},{"t":1.2365,"v":-1.2},{"t":1.238,"v":-2.1},
{"t":1.24,"v":2.1},{"t":1.2415,"v":1.2},{"t":1.243,"v":2.1},{"t":1.245,"v":-2.1},{"t":1.2465,"v":-1.2},{"t":1.248,"v":-2.1},
{"t":1.25,"v":2.1},{"t":1.2515,"v":1.2},{"t":1.253,"v":2.1},{"t":1.255,"v":-2.1},{"t":1.2565,"v":-1.2},{"t":1.258,"v":-2.1},
{"t":1.26,"v":2.1},{"t":1.2615,"v":1.2},{"t":1.263,"v":2.1},{"t":1.265,"v":-2.1},{"t":1.2665,"v":-1.2},{"t":1.268,"v":-2.1},
{"t":1.27,"v":2.1},{"t":1.2715,"v":1.2},{"t":1.273,"v":2.1},{"t":1.275,"v":-2.1},{"t":1.2765,"v":-1.2},{"t":1.278,"v":-2.1},
{"t":1.28,"v":2.1},{"t":1.2815,"v":1.2},{"t":1.283,"v":2.1},{"t":1.285,"v":-2.1},{"t":1.2865,"v":-1.2},{"t":1.288,"v":-2.1},
{"t":1.29,"v":2.1},{"t":1.2915,"v":1.2},{"t":1.293,"v":2.1},{"t":1.295,"v":-2.1},{"t":1.2965,"v":-1.2},{"t":1.298,"v":-2.1},
{"t":1.3,"v":2.1},{"t":1.3015,"v":1.2},{"t":1.303,"v":2.1},{"t":1.305,"v":-2.1},{"t":1.3065,"v":-1.2},{"t":1.308,"v":-2.1},
{"t":1.31,"v":2.1},{"t":1.3115,"v":1.2},{"t":1.313,"v":2.1},{"t":1.315,"v":-2.1},{"t":1.3165,"v":-1.2},{"t":1.318,"v":-2.1},
{"t":1.32,"v":2.1},{"t":1.3215,"v":1.2},{"t":1.323,"v":2.1},{"t":1.325,"v":-2.1},{"t":1.3265,"v":-1.2},{"t":1.328,"v":-2.1},
{"t":1.33,"v":2.1},{"t":1.3315,"v":1.2},{"t":1.333,"v":2.1},{"t":1.335,"v":-2.1},{"t":1.3365,"v":-1.2},{"t":1.338,"v":-2.1},
{"t":1.34,"v":2.1},{"t":1.3415,"v":1.2},{"t":1.343,"v":2.1},{"t":1.345,"v":-2.1},{"t":1.3465,"v":-1.2},{"t":1.348,"v":-2.1},
{"t":1.35,"v":2.1},{"t":1.3515,"v":1.2},{"t":1.353,"v":2.1},{"t":1.355,"v":-2.1},{"t":1.3565,"v":-1.2},{"t":1.358,"v":-2.1},
{"t":1.36,"v":2.1},{"t":1.3615,"v":1.2},{"t":1.363,"v":2.1},{"t":1.365,"v":-2.1},{"t":1.3665,"v":-1.2},{"t":1.368,"v":-2.1},
{"t":1.37,"v":2.1},{"t":1.3715,"v":1.2},{"t":1.373,"v":2.1},{"t":1.375,"v":-2.1},{"t":1.3765,"v":-1.2},{"t":1.378,"v":-2.1},
{"t":1.38,"v":2.1},{"t":1.3815,"v":1.2},{"t":1.383,"v":2.1},{"t":1.385,"v":-2.1},{"t":1.3865,"v":-1.2},{"t":1.388,"v":-2.1},
{"t":1.39,"v":2.1},{"t":1.3915,"v":1.2},{"t":1.393,"v":2.1},{"t":1.395,"v":-2.1},{"t":1.3965,"v":-1.2},{"t":1.398,"v":-2.1},
{"t":1.4,"v":2.1},{"t":1.4015,"v":1.2},{"t":1.403,"v":2.1},{"t":1.405,"v":-2.1},{"t":1.4065,"v":-1.2},{"t":1.408,"v":-2.1},
{"t":1.41,"v":2.1},{"t":1.4115,"v":1.2},{"t":1.413,"v":2.1},{"t":1.415,"v":-2.1},{"t":1.4165,"v":-1.2},{"t":1.418,"v":-2.1},
{"t":1.42,"v":2.1},{"t":1.4215,"v":1.2},{"t":1.423,"v":2.1},{"t":1.425,"v":-2.1},{"t":1.4265,"v":-1.2},{"t":1.428,"v":-2.1},
{"t":1.43,"v":2.1},{"t":1.4315,"v":1.2},{"t":1.433,"v":2.1},{"t":1.435,"v":-2.1},{"t":1.4365,"v":-1.2},{"t":1.438,"v":-2.1},
{"t":1.44,"v":2.1},{"t":1.4415,"v":1.2},{"t":1.443,"v":2.1},{"t":1.445,"v":-2.1},{"t":1.4465,"v":-1.2},{"t":1.448,"v":-2.1},
{"t":1.45,"v":2.1},{"t":1.4515,"v":1.2},{"t":1.453,"v":2.1},{"t":1.455,"v":-2.1},{"t":1.4565,"v":-1.2},{"t":1.458,"v":-2.1},
{"t":1.46,"v":2.1},{"t":1.4615,"v":1.2},{"t":1.463,"v":2.1},{"t":1.465,"v":-2.1},{"t":1.4665,"v":-1.2},{"t":1.468,"v":-2.1},
{"t":1.47,"v":2.1},{"t":1.4715,"v":1.2},{"t":1.473,"v":2.1},{"t":1.475,"v":-2.1},{"t":1.4765,"v":-1.2},{"t":1.478,"v":-2.1},
{"t":1.48,"v":2.1},{"t":1.4815,"v":1.2},{"t":1.483,"v":2.1},{"t":1.485,"v":-2.1},{"t":1.4865,"v":-1.2},{"t":1.488,"v":-2.1},
{"t":1.49,"v":2.1},{"t":1.4915,"v":1.2},{"t":1.493,"v":2.1},{"t":1.495,"v":-2.1},{"t":1.4965,"v":-1.2},{"t":1.498,"v":-2.1},
{"t":1.5,"v":2.1}],
"d": [{"t":0,"v":0},
{"t":0.779,"v":0.01},{"t":0.7855,"v":-0.012},{"t":0.792,"v":0.014},{"t":0.7985,"v":-0.017},{"t":0.805,"v":0.02},{"t":0.8115,"v":-0.025},{"t":0.818,"v":0.03},{"t":0.8245,"v":-0.04},{"t":0.831,"v":0.045},{"t":0.8375,"v":-0.055},{"t":0.844,"v":0.065},{"t":0.8505,"v":-0.08},{"t":0.857,"v":0.09},{"t":0.8635,"v":-0.1},{"t":0.87,"v":0.12},{"t":0.8765,"v":-0.14},{"t":0.883,"v":0.16},{"t":0.8895,"v":-0.19},{"t":0.896,"v":0.22},{"t":0.9025,"v":-0.25},{"t":0.909,"v":0.28},{"t":0.9155,"v":-0.31},{"t":0.922,"v":0.34},{"t":0.9285,"v":-0.38},{"t":0.935,"v":0.42},{"t":0.9415,"v":-0.46},{"t":0.948,"v":0.5},{"t":0.9545,"v":-0.55},{"t":0.961,"v":0.6},{"t":0.9675,"v":-0.67},
{"t":0.974,"v":0.75},{"t":0.976,"v":0.12},{"t":0.978,"v":0.75},{"t":0.9805,"v":-0.75},{"t":0.9825,"v":-0.12},{"t":0.9845,"v":-0.75},
{"t":0.987,"v":0.9},{"t":0.989,"v":0.14},{"t":0.991,"v":0.9},{"t":0.9935,"v":-0.9},{"t":0.9955,"v":-0.14},{"t":0.9975,"v":-0.9},
{"t":1,"v":1.05},{"t":1.002,"v":0.17},{"t":1.004,"v":1.05},{"t":1.0065,"v":-1.05},{"t":1.0085,"v":-0.17},{"t":1.0105,"v":-1.05},
{"t":1.013,"v":1.3},{"t":1.015,"v":0.21},{"t":1.017,"v":1.3},{"t":1.0195,"v":-1.3},{"t":1.0215,"v":-0.21},{"t":1.0235,"v":-1.3},
{"t":1.026,"v":1.45},{"t":1.028,"v":0.23},{"t":1.03,"v":1.45},{"t":1.0325,"v":-1.45},{"t":1.0345,"v":-0.23},{"t":1.0365,"v":-1.45},
{"t":1.039,"v":1.58},{"t":1.041,"v":0.25},{"t":1.043,"v":1.58},{"t":1.0455,"v":-1.58},{"t":1.0475,"v":-0.25},{"t":1.0495,"v":-1.58},
{"t":1.052,"v":1.68},{"t":1.054,"v":0.27},{"t":1.056,"v":1.68},{"t":1.0585,"v":-1.68},{"t":1.0605,"v":-0.27},{"t":1.0625,"v":-1.68},
{"t":1.065,"v":1.76},{"t":1.067,"v":0.28},{"t":1.069,"v":1.76},{"t":1.0715,"v":-1.76},{"t":1.0735,"v":-0.28},{"t":1.0755,"v":-1.76},
{"t":1.078,"v":1.84},{"t":1.08,"v":0.29},{"t":1.082,"v":1.84},{"t":1.0845,"v":-1.84},{"t":1.0865,"v":-0.29},{"t":1.0885,"v":-1.84},
{"t":1.091,"v":1.9},{"t":1.093,"v":0.3},{"t":1.095,"v":1.9},{"t":1.0975,"v":-1.9},{"t":1.0995,"v":-0.3},{"t":1.1015,"v":-1.9},
{"t":1.104,"v":1.94},{"t":1.106,"v":0.31},{"t":1.108,"v":1.94},{"t":1.1105,"v":-1.94},{"t":1.1125,"v":-0.31},{"t":1.1145,"v":-1.94},
{"t":1.117,"v":1.97},{"t":1.119,"v":0.32},{"t":1.121,"v":1.97},{"t":1.1235,"v":-1.97},{"t":1.1255,"v":-0.32},{"t":1.1275,"v":-1.97},
{"t":1.13,"v":2},{"t":1.132,"v":0.32},{"t":1.134,"v":2},{"t":1.1365,"v":-2},{"t":1.1385,"v":-0.32},{"t":1.1405,"v":-2},
{"t":1.143,"v":2.02},{"t":1.145,"v":0.33},{"t":1.147,"v":2.02},{"t":1.1495,"v":-2.02},{"t":1.1515,"v":-0.33},{"t":1.1535,"v":-2.02},
{"t":1.156,"v":2.04},{"t":1.158,"v":0.33},{"t":1.16,"v":2.04},{"t":1.1625,"v":-2.04},{"t":1.1645,"v":-0.33},{"t":1.1665,"v":-2.04},
{"t":1.169,"v":2.04},{"t":1.171,"v":0.33},{"t":1.173,"v":2.04},{"t":1.1755,"v":-2.04},{"t":1.1775,"v":-0.33},{"t":1.1795,"v":-2.04},
{"t":1.182,"v":2.04},{"t":1.184,"v":0.33},{"t":1.186,"v":2.04},{"t":1.1885,"v":-2.04},{"t":1.1905,"v":-0.33},{"t":1.1925,"v":-2.04},
{"t":1.195,"v":2.04},{"t":1.197,"v":0.33},{"t":1.199,"v":2.04},{"t":1.2015,"v":-2.04},{"t":1.2035,"v":-0.33},{"t":1.2055,"v":-2.04},
{"t":1.208,"v":2.04},{"t":1.21,"v":0.33},{"t":1.212,"v":2.04},{"t":1.2145,"v":-2.04},{"t":1.2165,"v":-0.33},{"t":1.2185,"v":-2.04},
{"t":1.221,"v":2.04},{"t":1.223,"v":0.33},{"t":1.225,"v":2.04},{"t":1.2275,"v":-2.04},{"t":1.2295,"v":-0.33},{"t":1.2315,"v":-2.04},
{"t":1.234,"v":2.04},{"t":1.236,"v":0.33},{"t":1.238,"v":2.04},{"t":1.2405,"v":-2.04},{"t":1.2425,"v":-0.33},{"t":1.2445,"v":-2.04},
{"t":1.247,"v":2.04},{"t":1.249,"v":0.33},{"t":1.251,"v":2.04},{"t":1.2535,"v":-2.04},{"t":1.2555,"v":-0.33},{"t":1.2575,"v":-2.04},
{"t":1.26,"v":2.04},{"t":1.262,"v":0.33},{"t":1.264,"v":2.04},{"t":1.2665,"v":-2.04},{"t":1.2685,"v":-0.33},{"t":1.2705,"v":-2.04},
{"t":1.273,"v":2.04},{"t":1.275,"v":0.33},{"t":1.277,"v":2.04},{"t":1.2795,"v":-2.04},{"t":1.2815,"v":-0.33},{"t":1.2835,"v":-2.04},
{"t":1.286,"v":2.04},{"t":1.288,"v":0.33},{"t":1.29,"v":2.04},{"t":1.2925,"v":-2.04},{"t":1.2945,"v":-0.33},{"t":1.2965,"v":-2.04},
{"t":1.299,"v":2.04},{"t":1.301,"v":0.33},{"t":1.303,"v":2.04},{"t":1.3055,"v":-2.04},{"t":1.3075,"v":-0.33},{"t":1.3095,"v":-2.04},
{"t":1.312,"v":2.04},{"t":1.314,"v":0.33},{"t":1.316,"v":2.04},{"t":1.3185,"v":-2.04},{"t":1.3205,"v":-0.33},{"t":1.3225,"v":-2.04},
{"t":1.325,"v":2.04},{"t":1.327,"v":0.33},{"t":1.329,"v":2.04},{"t":1.3315,"v":-2.04},{"t":1.3335,"v":-0.33},{"t":1.3355,"v":-2.04},
{"t":1.338,"v":2.04},{"t":1.34,"v":0.33},{"t":1.342,"v":2.04},{"t":1.3445,"v":-2.04},{"t":1.3465,"v":-0.33},{"t":1.3485,"v":-2.04},
{"t":1.351,"v":2.04},{"t":1.353,"v":0.33},{"t":1.355,"v":2.04},{"t":1.3575,"v":-2.04},{"t":1.3595,"v":-0.33},{"t":1.3615,"v":-2.04},
{"t":1.364,"v":2.04},{"t":1.366,"v":0.33},{"t":1.368,"v":2.04},{"t":1.3705,"v":-2.04},{"t":1.3725,"v":-0.33},{"t":1.3745,"v":-2.04},
{"t":1.377,"v":2.04},{"t":1.379,"v":0.33},{"t":1.381,"v":2.04},{"t":1.3835,"v":-2.04},{"t":1.3855,"v":-0.33},{"t":1.3875,"v":-2.04},
{"t":1.39,"v":2.04},{"t":1.392,"v":0.33},{"t":1.394,"v":2.04},{"t":1.3965,"v":-2.04},{"t":1.3985,"v":-0.33},{"t":1.4005,"v":-2.04},
{"t":1.403,"v":2.04},{"t":1.405,"v":0.33},{"t":1.407,"v":2.04},{"t":1.4095,"v":-2.04},{"t":1.4115,"v":-0.33},{"t":1.4135,"v":-2.04},
{"t":1.416,"v":2.04},{"t":1.418,"v":0.33},{"t":1.42,"v":2.04},{"t":1.4225,"v":-2.04},{"t":1.4245,"v":-0.33},{"t":1.4265,"v":-2.04},
{"t":1.429,"v":2.04},{"t":1.431,"v":0.33},{"t":1.433,"v":2.04},{"t":1.4355,"v":-2.04},{"t":1.4375,"v":-0.33},{"t":1.4395,"v":-2.04},
{"t":1.442,"v":2.04},{"t":1.444,"v":0.33},{"t":1.446,"v":2.04},{"t":1.4485,"v":-2.04},{"t":1.4505,"v":-0.33},{"t":1.4525,"v":-2.04},
{"t":1.455,"v":2.04},{"t":1.457,"v":0.33},{"t":1.459,"v":2.04},{"t":1.4615,"v":-2.04},{"t":1.4635,"v":-0.33},{"t":1.4655,"v":-2.04},
{"t":1.468,"v":2.04},{"t":1.47,"v":0.33},{"t":1.472,"v":2.04},{"t":1.4745,"v":-2.04},{"t":1.4765,"v":-0.33},{"t":1.4785,"v":-2.04},
{"t":1.481,"v":2.04},{"t":1.483,"v":0.33},{"t":1.485,"v":2.04},{"t":1.4875,"v":-2.04},{"t":1.4895,"v":-0.33},{"t":1.4915,"v":-2.04},
{"t":1.494,"v":2.04},{"t":1.496,"v":0.33},{"t":1.498,"v":2.04},{"t":1.5005,"v":-2.04}],
"e": [{"t":0,"v":0},
{"t":0.86,"v":0.01},{"t":0.865,"v":-0.012},{"t":0.87,"v":0.015},{"t":0.875,"v":-0.017},{"t":0.88,"v":0.02},{"t":0.885,"v":-0.022},{"t":0.89,"v":0.025},{"t":0.895,"v":-0.027},{"t":0.9,"v":0.03},{"t":0.905,"v":-0.033},{"t":0.91,"v":0.036},{"t":0.915,"v":-0.04},{"t":0.92,"v":0.043},{"t":0.925,"v":-0.046},{"t":0.93,"v":0.05},{"t":0.935,"v":-0.052},{"t":0.94,"v":0.055},{"t":0.945,"v":-0.058},{"t":0.95,"v":0.06},{"t":0.955,"v":-0.065},{"t":0.96,"v":0.07},{"t":0.965,"v":-0.075},{"t":0.97,"v":0.08},{"t":0.975,"v":-0.085},{"t":0.98,"v":0.09},{"t":0.985,"v":-0.095},{"t":0.99,"v":0.1},{"t":0.995,"v":-0.1},{"t":1,"v":0.1},{"t":1.005,"v":-0.11},{"t":1.01,"v":0.12},{"t":1.015,"v":-0.13},{"t":1.02,"v":0.14},{"t":1.025,"v":-0.15},{"t":1.03,"v":0.16},{"t":1.035,"v":-0.18},{"t":1.04,"v":0.2},{"t":1.045,"v":-0.22},{"t":1.05,"v":0.23},{"t":1.055,"v":-0.25},{"t":1.06,"v":0.27},{"t":1.065,"v":-0.3},{"t":1.07,"v":0.32},{"t":1.075,"v":-0.35},{"t":1.08,"v":0.37},{"t":1.085,"v":-0.41},{"t":1.09,"v":0.45},{"t":1.095,"v":-0.5},{"t":1.1,"v":0.55},{"t":1.105,"v":-0.6},
{"t":1.11,"v":0.7},{"t":1.1117,"v":0.22},{"t":1.1135,"v":0.7},{"t":1.1153,"v":-0.7},{"t":1.117,"v":-0.22},{"t":1.1188,"v":-0.7},
{"t":1.1205,"v":0.85},{"t":1.1222,"v":0.26},{"t":1.124,"v":0.85},{"t":1.1258,"v":-0.85},{"t":1.1275,"v":-0.26},{"t":1.1293,"v":-0.85},
{"t":1.131,"v":0.98},{"t":1.1327,"v":0.3},{"t":1.1345,"v":0.98},{"t":1.1363,"v":-0.98},{"t":1.138,"v":-0.3},{"t":1.1398,"v":-0.98},
{"t":1.1415,"v":1.08},{"t":1.1432,"v":0.33},{"t":1.145,"v":1.08},{"t":1.1468,"v":-1.08},{"t":1.1485,"v":-0.33},{"t":1.1503,"v":-1.08},
{"t":1.152,"v":1.18},{"t":1.1537,"v":0.37},{"t":1.1555,"v":1.18},{"t":1.1573,"v":-1.18},{"t":1.159,"v":-0.37},{"t":1.1608,"v":-1.18},
{"t":1.1625,"v":1.27},{"t":1.1642,"v":0.39},{"t":1.166,"v":1.27},{"t":1.1678,"v":-1.27},{"t":1.1695,"v":-0.39},{"t":1.1713,"v":-1.27},
{"t":1.173,"v":1.38},{"t":1.1747,"v":0.43},{"t":1.1765,"v":1.38},{"t":1.1783,"v":-1.38},{"t":1.18,"v":-0.43},{"t":1.1818,"v":-1.38},
{"t":1.1835,"v":1.48},{"t":1.1852,"v":0.46},{"t":1.187,"v":1.48},{"t":1.1888,"v":-1.48},{"t":1.1905,"v":-0.46},{"t":1.1923,"v":-1.48},
{"t":1.194,"v":1.55},{"t":1.1957,"v":0.48},{"t":1.1975,"v":1.55},{"t":1.1993,"v":-1.55},{"t":1.201,"v":-0.48},{"t":1.2028,"v":-1.55},
{"t":1.2045,"v":1.61},{"t":1.2062,"v":0.5},{"t":1.208,"v":1.61},{"t":1.2098,"v":-1.61},{"t":1.2115,"v":-0.5},{"t":1.2133,"v":-1.61},
{"t":1.215,"v":1.67},{"t":1.2167,"v":0.52},{"t":1.2185,"v":1.67},{"t":1.2203,"v":-1.67},{"t":1.222,"v":-0.52},{"t":1.2238,"v":-1.67},
{"t":1.2255,"v":1.72},{"t":1.2272,"v":0.53},{"t":1.229,"v":1.72},{"t":1.2308,"v":-1.72},{"t":1.2325,"v":-0.53},{"t":1.2343,"v":-1.72},
{"t":1.236,"v":1.75},{"t":1.2377,"v":0.54},{"t":1.2395,"v":1.75},{"t":1.2413,"v":-1.75},{"t":1.243,"v":-0.54},{"t":1.2448,"v":-1.75},
{"t":1.2465,"v":1.78},{"t":1.2482,"v":0.55},{"t":1.25,"v":1.78},{"t":1.2518,"v":-1.78},{"t":1.2535,"v":-0.55},{"t":1.2553,"v":-1.78},
{"t":1.257,"v":1.8},{"t":1.2587,"v":0.56},{"t":1.2605,"v":1.8},{"t":1.2623,"v":-1.8},{"t":1.264,"v":-0.56},{"t":1.2658,"v":-1.8},
{"t":1.2675,"v":1.82},{"t":1.2692,"v":0.56},{"t":1.271,"v":1.82},{"t":1.2728,"v":-1.82},{"t":1.2745,"v":-0.56},{"t":1.2763,"v":-1.82},
{"t":1.278,"v":1.83},{"t":1.2797,"v":0.57},{"t":1.2815,"v":1.83},{"t":1.2833,"v":-1.83},{"t":1.285,"v":-0.57},{"t":1.2868,"v":-1.83},
{"t":1.2885,"v":1.84},{"t":1.2902,"v":0.57},{"t":1.292,"v":1.84},{"t":1.2938,"v":-1.84},{"t":1.2955,"v":-0.57},{"t":1.2973,"v":-1.84},
{"t":1.299,"v":1.85},{"t":1.3007,"v":0.57},{"t":1.3025,"v":1.85},{"t":1.3043,"v":-1.85},{"t":1.306,"v":-0.57},{"t":1.3078,"v":-1.85},
{"t":1.3095,"v":1.86},{"t":1.3112,"v":0.58},{"t":1.313,"v":1.86},{"t":1.3148,"v":-1.86},{"t":1.3165,"v":-0.58},{"t":1.3183,"v":-1.86},
{"t":1.32,"v":1.87},{"t":1.3217,"v":0.58},{"t":1.3235,"v":1.87},{"t":1.3253,"v":-1.87},{"t":1.327,"v":-0.58},{"t":1.3288,"v":-1.87},
{"t":1.3305,"v":1.87},{"t":1.3322,"v":0.58},{"t":1.334,"v":1.87},{"t":1.3358,"v":-1.87},{"t":1.3375,"v":-0.58},{"t":1.3393,"v":-1.87},
{"t":1.341,"v":1.88},{"t":1.3427,"v":0.58},{"t":1.3445,"v":1.88},{"t":1.3463,"v":-1.88},{"t":1.348,"v":-0.58},{"t":1.3498,"v":-1.88},
{"t":1.3515,"v":1.88},{"t":1.3532,"v":0.58},{"t":1.355,"v":1.88},{"t":1.3568,"v":-1.88},{"t":1.3585,"v":-0.58},{"t":1.3603,"v":-1.88},
{"t":1.362,"v":1.89},{"t":1.3637,"v":0.59},{"t":1.3655,"v":1.89},{"t":1.3673,"v":-1.89},{"t":1.369,"v":-0.59},{"t":1.3708,"v":-1.89},
{"t":1.3725,"v":1.89},{"t":1.3742,"v":0.59},{"t":1.376,"v":1.89},{"t":1.3778,"v":-1.89},{"t":1.3795,"v":-0.59},{"t":1.3813,"v":-1.89},
{"t":1.383,"v":1.9},{"t":1.3847,"v":0.59},{"t":1.3865,"v":1.9},{"t":1.3883,"v":-1.9},{"t":1.39,"v":-0.59},{"t":1.3918,"v":-1.9},
{"t":1.3935,"v":1.9},{"t":1.3952,"v":0.59},{"t":1.397,"v":1.9},{"t":1.3988,"v":-1.9},{"t":1.4005,"v":-0.59},{"t":1.4023,"v":-1.9},
{"t":1.404,"v":1.9},{"t":1.4057,"v":0.59},{"t":1.4075,"v":1.9},{"t":1.4093,"v":-1.9},{"t":1.411,"v":-0.59},{"t":1.4128,"v":-1.9},
{"t":1.4145,"v":1.9},{"t":1.4162,"v":0.59},{"t":1.418,"v":1.9},{"t":1.4198,"v":-1.9},{"t":1.4215,"v":-0.59},{"t":1.4233,"v":-1.9},
{"t":1.425,"v":1.9},{"t":1.4267,"v":0.59},{"t":1.4285,"v":1.9},{"t":1.4303,"v":-1.9},{"t":1.432,"v":-0.59},{"t":1.4338,"v":-1.9},
{"t":1.4355,"v":1.9},{"t":1.4372,"v":0.59},{"t":1.439,"v":1.9},{"t":1.4408,"v":-1.9},{"t":1.4425,"v":-0.59},{"t":1.4443,"v":-1.9},
{"t":1.446,"v":1.9},{"t":1.4477,"v":0.59},{"t":1.4495,"v":1.9},{"t":1.4513,"v":-1.9},{"t":1.453,"v":-0.59},{"t":1.4548,"v":-1.9},
{"t":1.4565,"v":1.9},{"t":1.4582,"v":0.59},{"t":1.46,"v":1.9},{"t":1.4618,"v":-1.9},{"t":1.4635,"v":-0.59},{"t":1.4653,"v":-1.9},
{"t":1.467,"v":1.9},{"t":1.4687,"v":0.59},{"t":1.4705,"v":1.9},{"t":1.4723,"v":-1.9},{"t":1.474,"v":-0.59},{"t":1.4758,"v":-1.9},
{"t":1.4775,"v":1.9},{"t":1.4792,"v":0.59},{"t":1.481,"v":1.9},{"t":1.4828,"v":-1.9},{"t":1.4845,"v":-0.59},{"t":1.4863,"v":-1.9},
{"t":1.488,"v":1.9},{"t":1.4897,"v":0.59},{"t":1.4915,"v":1.9},{"t":1.4933,"v":-1.9},{"t":1.495,"v":-0.59},{"t":1.4968,"v":-1.9},
{"t":1.4985,"v":1.9},{"t":1.5002,"v":0.59}]
},
"vconcat": [
{"width": 1652, "height": 216,
 "layer": [
  {"data": {"name": "a"}, "mark": {"type": "line", "color": "black", "strokeWidth": 2, "clip": true},
   "encoding": {
    "x": {"field": "t", "type": "quantitative", "scale": {"domain": [0, 1.5], "nice": false, "zero": false},
      "axis": {"values": [0, 0.5, 1, 1.5], "format": "~g", "title": null, "labelExpr": "replace(datum.label, '.', '. ')", "labelPadding": 40, "tickSize": -15, "grid": true, "gridColor": "#e4e4e4", "gridWidth": 1.2, "gridOpacity": {"condition": {"test": "datum.value > 0.1 && datum.value < 1.4", "value": 1}, "value": 0}}},
    "y": {"field": "v", "type": "quantitative", "scale": {"domain": [-4, 4], "nice": false},
      "axis": {"values": [-4, 0, 4], "ticks": false, "grid": false, "labelPadding": 13, "title": "Amp（Pa）", "titleFontSize": 50, "titleFontWeight": "bold", "titleFontStyle": "italic", "titleAngle": 270, "titleX": -118, "titleY": 106, "titleAlign": "center", "titleBaseline": "middle"}}
   }},
  {"data": {"values": [{"t": 0, "v": 0}]}, "mark": {"type": "point", "opacity": 0},
   "encoding": {
    "x": {"field": "t", "type": "quantitative", "scale": {"domain": [0, 1.5], "nice": false, "zero": false},
      "axis": {"orient": "top", "values": [0.5, 1], "labels": false, "tickSize": -15, "grid": false, "title": "×10⁵", "titleFontSize": 64, "titleFontWeight": "normal", "titleAngle": 0, "titleX": 3, "titleY": -13, "titleAlign": "left", "titleBaseline": "alphabetic"}},
    "y": {"field": "v", "type": "quantitative", "scale": {"domain": [-4, 4], "nice": false},
      "axis": {"orient": "right", "values": [0], "labels": false, "tickSize": -15, "grid": false, "title": "（a）", "titleFontSize": 46, "titleFontWeight": "bold", "titleAngle": 0, "titleX": 105, "titleY": 135, "titleAlign": "center", "titleBaseline": "middle"}}
   }}
 ],
 "resolve": {"axis": {"x": "independent", "y": "independent"}}
},
{"width": 1652, "height": 213,
 "layer": [
  {"data": {"name": "b"}, "mark": {"type": "line", "color": "black", "strokeWidth": 1.5, "clip": true},
   "encoding": {
    "x": {"field": "t", "type": "quantitative", "scale": {"domain": [0, 1.5], "nice": false, "zero": false},
      "axis": {"values": [0, 0.5, 1, 1.5], "format": "~g", "title": null, "labelExpr": "replace(datum.label, '.', '. ')", "labelPadding": 40, "tickSize": -15, "grid": true, "gridColor": "#e4e4e4", "gridWidth": 1.2, "gridOpacity": {"condition": {"test": "datum.value > 0.1 && datum.value < 1.4", "value": 1}, "value": 0}}},
    "y": {"field": "v", "type": "quantitative", "scale": {"domain": [-4, 4], "nice": false},
      "axis": {"values": [-4, 0, 4], "ticks": false, "grid": false, "labelPadding": 13, "title": "Amp（Pa）", "titleFontSize": 50, "titleFontWeight": "bold", "titleFontStyle": "italic", "titleAngle": 270, "titleX": -118, "titleY": 104, "titleAlign": "center", "titleBaseline": "middle"}}
   }},
  {"data": {"values": [{"t": 0, "v": 0}]}, "mark": {"type": "point", "opacity": 0},
   "encoding": {
    "x": {"field": "t", "type": "quantitative", "scale": {"domain": [0, 1.5], "nice": false, "zero": false},
      "axis": {"orient": "top", "values": [0.5, 1], "labels": false, "tickSize": -15, "grid": false, "title": "×10⁵", "titleFontSize": 64, "titleFontWeight": "normal", "titleAngle": 0, "titleX": 3, "titleY": -13, "titleAlign": "left", "titleBaseline": "alphabetic"}},
    "y": {"field": "v", "type": "quantitative", "scale": {"domain": [-4, 4], "nice": false},
      "axis": {"orient": "right", "values": [0], "labels": false, "tickSize": -15, "grid": false, "title": "（b）", "titleFontSize": 46, "titleFontWeight": "bold", "titleAngle": 0, "titleX": 105, "titleY": 116, "titleAlign": "center", "titleBaseline": "middle"}}
   }}
 ],
 "resolve": {"axis": {"x": "independent", "y": "independent"}}
},
{"width": 1652, "height": 180,
 "layer": [
  {"data": {"name": "c"}, "mark": {"type": "line", "color": "black", "strokeWidth": 1.5, "clip": true},
   "encoding": {
    "x": {"field": "t", "type": "quantitative", "scale": {"domain": [0, 1.5], "nice": false, "zero": false},
      "axis": {"values": [0, 0.5, 1, 1.5], "format": "~g", "title": null, "labelExpr": "replace(datum.label, '.', '. ')", "labelPadding": 40, "tickSize": -15, "grid": true, "gridColor": "#e4e4e4", "gridWidth": 1.2, "gridOpacity": {"condition": {"test": "datum.value > 0.1 && datum.value < 1.4", "value": 1}, "value": 0}}},
    "y": {"field": "v", "type": "quantitative", "scale": {"domain": [-4, 4], "nice": false},
      "axis": {"values": [-4, 0, 4], "ticks": false, "grid": false, "labelPadding": 13, "title": "Amp（Pa）", "titleFontSize": 50, "titleFontWeight": "bold", "titleFontStyle": "italic", "titleAngle": 270, "titleX": -118, "titleY": 88, "titleAlign": "center", "titleBaseline": "middle"}}
   }},
  {"data": {"values": [{"t": 0, "v": 0}]}, "mark": {"type": "point", "opacity": 0},
   "encoding": {
    "x": {"field": "t", "type": "quantitative", "scale": {"domain": [0, 1.5], "nice": false, "zero": false},
      "axis": {"orient": "top", "values": [0.5, 1], "labels": false, "tickSize": -15, "grid": false, "title": "×10⁵", "titleFontSize": 64, "titleFontWeight": "normal", "titleAngle": 0, "titleX": 3, "titleY": -13, "titleAlign": "left", "titleBaseline": "alphabetic"}},
    "y": {"field": "v", "type": "quantitative", "scale": {"domain": [-4, 4], "nice": false},
      "axis": {"orient": "right", "values": [0], "labels": false, "tickSize": -15, "grid": false, "title": "（c）", "titleFontSize": 46, "titleFontWeight": "bold", "titleAngle": 0, "titleX": 105, "titleY": 91, "titleAlign": "center", "titleBaseline": "middle"}}
   }}
 ],
 "resolve": {"axis": {"x": "independent", "y": "independent"}}
},
{"width": 1652, "height": 157,
 "layer": [
  {"data": {"name": "d"}, "mark": {"type": "line", "color": "black", "strokeWidth": 1.5, "clip": true},
   "encoding": {
    "x": {"field": "t", "type": "quantitative", "scale": {"domain": [0, 1.5], "nice": false, "zero": false},
      "axis": {"values": [0, 0.5, 1, 1.5], "format": "~g", "title": null, "labelExpr": "replace(datum.label, '.', '. ')", "labelPadding": 40, "tickSize": -15, "grid": true, "gridColor": "#e4e4e4", "gridWidth": 1.2, "gridOpacity": {"condition": {"test": "datum.value > 0.1 && datum.value < 1.4", "value": 1}, "value": 0}}},
    "y": {"field": "v", "type": "quantitative", "scale": {"domain": [-4, 4], "nice": false},
      "axis": {"values": [-4, 0, 4], "ticks": false, "grid": false, "labelPadding": 13, "title": "Amp（Pa）", "titleFontSize": 50, "titleFontWeight": "bold", "titleFontStyle": "italic", "titleAngle": 270, "titleX": -118, "titleY": 76, "titleAlign": "center", "titleBaseline": "middle"}}
   }},
  {"data": {"values": [{"t": 0, "v": 0}]}, "mark": {"type": "point", "opacity": 0},
   "encoding": {
    "x": {"field": "t", "type": "quantitative", "scale": {"domain": [0, 1.5], "nice": false, "zero": false},
      "axis": {"orient": "top", "values": [0.5, 1], "labels": false, "tickSize": -15, "grid": false, "title": "×10⁵", "titleFontSize": 64, "titleFontWeight": "normal", "titleAngle": 0, "titleX": 3, "titleY": -13, "titleAlign": "left", "titleBaseline": "alphabetic"}},
    "y": {"field": "v", "type": "quantitative", "scale": {"domain": [-4, 4], "nice": false},
      "axis": {"orient": "right", "values": [0], "labels": false, "tickSize": -15, "grid": false, "title": "（d）", "titleFontSize": 46, "titleFontWeight": "bold", "titleAngle": 0, "titleX": 105, "titleY": 91, "titleAlign": "center", "titleBaseline": "middle"}}
   }}
 ],
 "resolve": {"axis": {"x": "independent", "y": "independent"}}
},
{"width": 1652, "height": 148,
 "layer": [
  {"data": {"name": "e"}, "mark": {"type": "line", "color": "black", "strokeWidth": 1.5, "clip": true},
   "encoding": {
    "x": {"field": "t", "type": "quantitative", "scale": {"domain": [0, 1.5], "nice": false, "zero": false},
      "axis": {"values": [0, 0.5, 1, 1.5], "format": "~g", "title": "Time（s）", "titleFontSize": 55, "titleFontWeight": "bold", "titleFontStyle": "italic", "titleX": 857, "titleY": 159, "titleAlign": "center", "titleBaseline": "alphabetic", "labelExpr": "replace(datum.label, '.', '. ')", "labelPadding": 40, "tickSize": -15, "grid": true, "gridColor": "#e4e4e4", "gridWidth": 1.2, "gridOpacity": {"condition": {"test": "datum.value > 0.1 && datum.value < 1.4", "value": 1}, "value": 0}}},
    "y": {"field": "v", "type": "quantitative", "scale": {"domain": [-4, 4], "nice": false},
      "axis": {"values": [-4, 0, 4], "ticks": false, "grid": false, "labelPadding": 13, "title": "Amp（Pa）", "titleFontSize": 50, "titleFontWeight": "bold", "titleFontStyle": "italic", "titleAngle": 270, "titleX": -118, "titleY": 72, "titleAlign": "center", "titleBaseline": "middle"}}
   }},
  {"data": {"values": [{"t": 0, "v": 0}]}, "mark": {"type": "point", "opacity": 0},
   "encoding": {
    "x": {"field": "t", "type": "quantitative", "scale": {"domain": [0, 1.5], "nice": false, "zero": false},
      "axis": {"orient": "top", "values": [0.5, 1], "labels": false, "tickSize": -15, "grid": false, "title": "×10⁵", "titleFontSize": 64, "titleFontWeight": "normal", "titleAngle": 0, "titleX": 3, "titleY": -13, "titleAlign": "left", "titleBaseline": "alphabetic"}},
    "y": {"field": "v", "type": "quantitative", "scale": {"domain": [-4, 4], "nice": false},
      "axis": {"orient": "right", "values": [0], "labels": false, "tickSize": -15, "grid": false, "title": "（e）", "titleFontSize": 46, "titleFontWeight": "bold", "titleAngle": 0, "titleX": 105, "titleY": 93, "titleAlign": "center", "titleBaseline": "middle"}}
   }}
 ],
 "resolve": {"axis": {"x": "independent", "y": "independent"}}
}
]
}
